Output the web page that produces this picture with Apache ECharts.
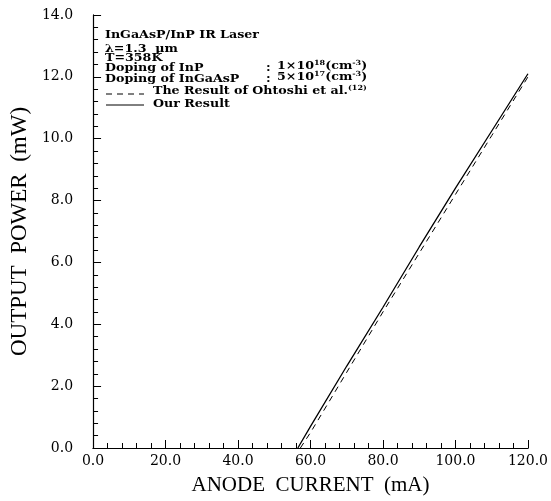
<!DOCTYPE html>
<html>
<head>
<meta charset="utf-8">
<script src="https://cdn.jsdelivr.net/npm/echarts@6/dist/echarts.min.js"></script>
<style>
  html, body { margin: 0; padding: 0; background: #fff; }
  #chart { width: 551px; height: 501px; }
</style>
</head>
<body>
<div id="chart"></div>
<script>
// values: [anode current (mA), output power (mW)]
var ourResult = [[56.5, 0], [60, 0.7], [70, 2.65], [80, 4.55], [90, 6.5], [100, 8.4], [110, 10.25], [120, 12.1]];
var ohtoshiResult = [[57.2, 0], [60, 0.5], [70, 2.45], [80, 4.4], [90, 6.3], [100, 8.2], [110, 10.1], [120, 12.0]];
var noteLines = ['InGaAsP/InP IR Laser', 'λ=1.3  μm', 'T=358K', 'Doping of InP', 'Doping of InGaAsP'];
var noteTops = [30, 44, 53, 63, 74];

var ink = '#000';
var serif = '"DejaVu Serif", "Liberation Serif", serif';
var chart = echarts.init(document.getElementById('chart'));

function fmt(v) { return v.toFixed(1); }

var wide = 1.15;
var base = { fontFamily: serif, fontSize: 11, fontWeight: 'bold' };
var sup = { fontFamily: serif, fontSize: 7, fontWeight: 'bold', verticalAlign: 'top', padding: [0, 0, 6, 0] };

function note(x, y, text, rich) {
  var style = rich ? { text: text, fill: ink, rich: { b: base, s: sup } }
                   : Object.assign({ text: text, fill: ink }, base);
  return { type: 'text', x: x, y: y, scaleX: wide, style: style };
}

var graphics = [];
noteLines.forEach(function (t, i) {
  graphics.push(note(105, noteTops[i], t));
});
graphics.push(note(266, 63, ':'));
graphics.push(note(266, 74, ':'));
graphics.push(note(277, 60, '{b|1×10}{s|18}{b|(cm}{s|-3}{b|)}', true));
graphics.push(note(277, 71, '{b|5×10}{s|17}{b|(cm}{s|-3}{b|)}', true));
graphics.push({ type: 'line', shape: { x1: 106, y1: 94, x2: 144, y2: 94 }, style: { stroke: ink, lineWidth: 1, lineDash: [6, 5] } });
graphics.push({ type: 'line', shape: { x1: 106, y1: 105, x2: 144, y2: 105 }, style: { stroke: ink, lineWidth: 1 } });
graphics.push(note(153, 85, '{b|The Result of Ohtoshi et al.}{s|(12)}', true));
graphics.push(note(153, 99, 'Our Result'));

var option = {
  backgroundColor: '#fff',
  animation: false,
  grid: { left: 88, right: 22, top: 15, bottom: 48 },
  xAxis: [{
    type: 'value', min: 0, max: 120, interval: 20,
    name: 'ANODE  CURRENT  (mA)', nameLocation: 'middle', nameGap: 27,
    nameTextStyle: { fontFamily: '"Liberation Serif", serif', fontSize: 21, color: ink },
    axisLine: { lineStyle: { color: ink, width: 1.2 } },
    axisTick: { inside: true, length: 8, lineStyle: { color: ink } },
    minorTick: { show: true, splitNumber: 5, length: 5, lineStyle: { color: ink } },
    axisLabel: { formatter: fmt, fontFamily: serif, fontSize: 14, color: ink, margin: 6 },
    splitLine: { show: false }
  }, {
    type: 'value', min: 0, max: 120, position: 'top',
    axisLine: { show: true, lineStyle: { color: ink, width: 1 } },
    axisTick: { show: false }, axisLabel: { show: false }, splitLine: { show: false }
  }],
  yAxis: [{
    type: 'value', min: 0, max: 14, interval: 2,
    name: 'OUTPUT  POWER  (mW)', nameLocation: 'middle', nameGap: 58,
    nameTextStyle: { fontFamily: '"Liberation Serif", serif', fontSize: 23, color: ink },
    axisLine: { show: true, lineStyle: { color: ink, width: 1.2 } },
    axisTick: { show: true, inside: true, length: 8, lineStyle: { color: ink } },
    minorTick: { show: true, splitNumber: 5, length: 5, lineStyle: { color: ink } },
    axisLabel: { formatter: fmt, fontFamily: serif, fontSize: 14, color: ink, margin: 20 },
    splitLine: { show: false }
  }, {
    type: 'value', min: 0, max: 14, position: 'right',
    axisLine: { show: true, lineStyle: { color: ink, width: 1 } },
    axisTick: { show: false }, axisLabel: { show: false }, splitLine: { show: false }
  }],
  series: [{
    name: 'The Result of Ohtoshi et al.',
    type: 'line', data: ohtoshiResult, symbol: 'none',
    lineStyle: { color: ink, width: 1, type: [6, 5] }
  }, {
    name: 'Our Result',
    type: 'line', data: ourResult, symbol: 'none',
    lineStyle: { color: ink, width: 1.3 }
  }],
  graphic: graphics
};

chart.setOption(option);
</script>
</body>
</html>
